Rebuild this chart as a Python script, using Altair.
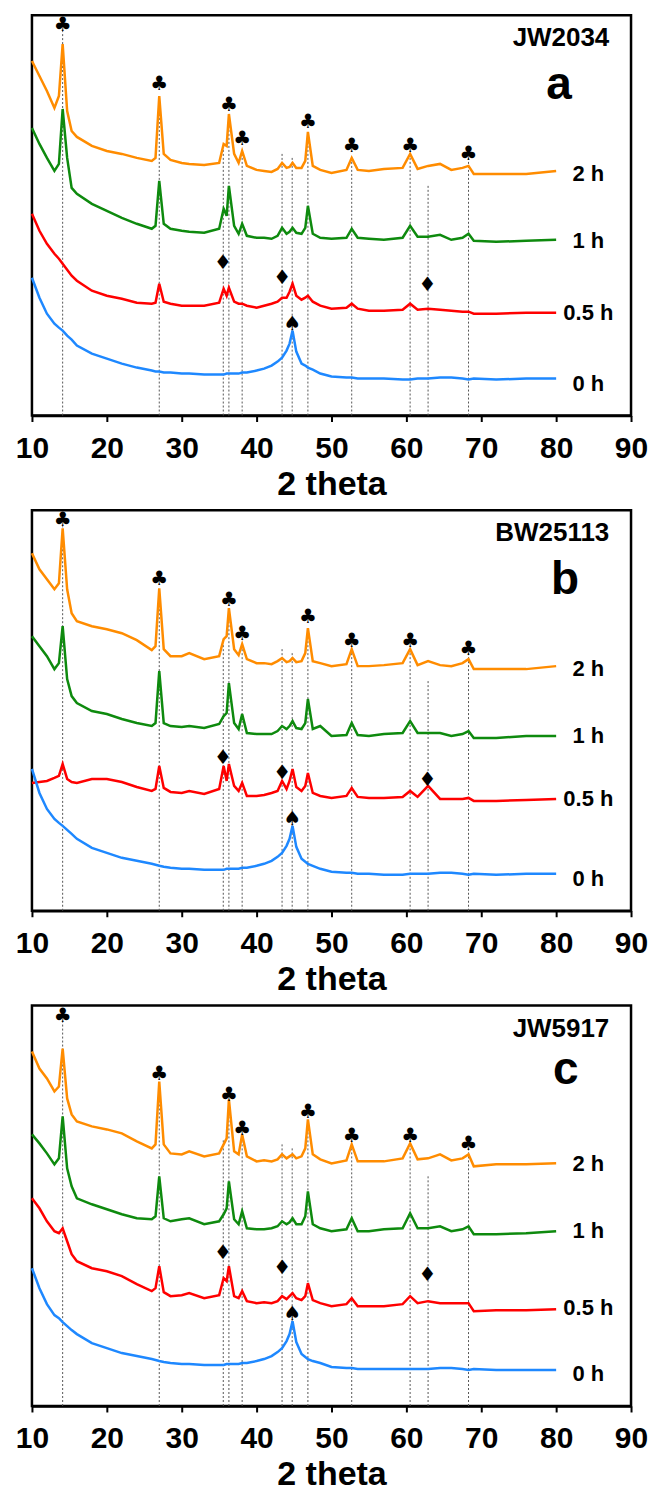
import altair as alt
import pandas as pd

# ---- data (x = 2 theta, y = intensity in arbitrary units) ----
X = [10, 11, 12, 13, 13.6, 14.1, 14.7, 15.3, 16, 18, 20, 22, 24, 26, 26.5, 27.0, 27.6, 28.5, 30, 31,
     33, 35, 35.6, 36.0, 36.3, 37.0, 37.6, 38.07, 38.7, 40, 41, 42, 42.8, 43.4, 44.0, 44.4, 44.8, 45.3,
     46.0, 46.5, 46.85, 47.5, 48.5, 50, 52.0, 52.7, 53.5, 55, 57, 59.5, 60.5, 61.5, 62.9, 64.5, 66, 67.5,
     68.3, 69, 72, 76, 80]

# panel a : JW2034
A_2H = [355, 340, 325, 308, 320, 372, 305, 285, 279, 270, 265, 262, 258, 255, 258, 320, 262, 256, 253, 252,
        251, 253, 272, 270, 302, 262, 253, 265, 250, 246, 245, 244, 247, 253, 248, 249, 253, 248,
        248, 255, 284, 250, 246, 243, 246, 258, 246, 245, 247, 248, 262, 247, 250, 252, 246, 248,
        250, 242, 242, 242, 245]
A_1H = [288, 272, 258, 245, 252, 307, 258, 228, 222, 212, 205, 198, 192, 187, 190, 235, 192, 187, 185, 184,
        183, 187, 207, 200, 230, 190, 182, 192, 180, 178, 178, 177, 180, 188, 182, 184, 188, 183,
        182, 188, 210, 182, 178, 177, 178, 187, 178, 177, 176, 178, 190, 179, 179, 181, 176, 178,
        182, 175, 174, 175, 176]
A_05H = [202, 185, 172, 162, 157, 152, 146, 140, 135, 125, 120, 117, 113, 112, 113, 132, 114, 112, 110, 110,
         110, 113, 127, 120, 128, 114, 112, 112, 110, 108, 110, 112, 114, 118, 118, 124, 132, 120,
         116, 118, 120, 114, 110, 107, 108, 112, 107, 105, 105, 106, 112, 106, 107, 106, 105, 104,
         104, 102, 102, 103, 103]
A_0H = [138, 118, 102, 92, 88, 85, 80, 76, 70, 62, 57, 52, 48, 45, 44, 44, 43, 43, 42, 42,
        41, 41, 41, 42, 42, 42, 42, 43, 43, 45, 47, 50, 54, 58, 65, 72, 85, 64,
        52, 50, 48, 46, 42, 39, 38, 38, 37, 37, 37, 36, 36, 37, 37, 38, 38, 37,
        36, 37, 36, 37, 37]

# panel b : BW25113
B_2H = [358, 342, 332, 322, 328, 383, 322, 298, 290, 285, 282, 278, 271, 261, 265, 323, 262, 255, 255, 258,
        252, 255, 272, 275, 303, 262, 256, 267, 252, 248, 248, 247, 250, 253, 249, 250, 253, 249,
        250, 258, 283, 250, 248, 245, 247, 262, 245, 245, 246, 248, 262, 246, 250, 246, 245, 248,
        252, 242, 242, 242, 245]
B_1H = [275, 265, 255, 242, 248, 285, 232, 215, 208, 200, 197, 192, 188, 185, 188, 240, 188, 185, 184, 185,
        183, 187, 195, 198, 228, 188, 182, 197, 178, 177, 177, 177, 180, 185, 182, 185, 190, 183,
        182, 188, 212, 182, 185, 175, 176, 188, 176, 175, 177, 178, 190, 178, 178, 178, 175, 177,
        180, 173, 173, 175, 175]
B_05H = [128, 129, 130, 133, 135, 147, 132, 129, 128, 132, 132, 129, 124, 120, 122, 145, 123, 119, 118, 120,
         117, 122, 145, 130, 147, 125, 120, 128, 115, 115, 116, 118, 120, 130, 122, 130, 142, 124,
         120, 125, 138, 118, 115, 113, 115, 123, 114, 113, 113, 114, 120, 114, 125, 112, 112, 112,
         113, 110, 110, 111, 112]
B_0H = [142, 118, 102, 92, 88, 85, 81, 77, 72, 63, 58, 53, 50, 47, 46, 45, 44, 43, 42, 42,
        41, 41, 41, 42, 42, 42, 42, 43, 43, 45, 47, 50, 54, 58, 65, 72, 85, 64,
        52, 49, 47, 45, 42, 39, 38, 38, 37, 37, 36, 36, 37, 37, 37, 38, 38, 37,
        36, 37, 36, 37, 37]

# panel c : JW5917
C_2H = [355, 338, 328, 315, 320, 358, 308, 292, 285, 280, 277, 273, 265, 258, 262, 325, 262, 253, 252, 255,
        250, 253, 262, 268, 307, 255, 252, 272, 250, 245, 246, 245, 247, 252, 248, 250, 252, 248,
        250, 258, 287, 252, 247, 243, 246, 262, 245, 245, 245, 248, 263, 247, 248, 252, 246, 248,
        252, 240, 242, 242, 243]
C_1H = [272, 263, 253, 242, 248, 290, 238, 220, 208, 202, 197, 192, 188, 187, 190, 230, 188, 185, 187, 188,
        182, 185, 192, 198, 225, 187, 182, 195, 178, 177, 177, 178, 180, 185, 182, 184, 188, 182,
        182, 190, 215, 182, 178, 175, 177, 188, 175, 175, 177, 178, 193, 178, 178, 180, 175, 177,
        180, 172, 172, 173, 175]
C_05H = [208, 198, 185, 175, 173, 178, 165, 152, 145, 138, 135, 130, 122, 115, 118, 140, 114, 110, 111, 113,
         108, 111, 128, 125, 140, 110, 108, 115, 105, 103, 104, 103, 105, 110, 107, 110, 113, 108,
         106, 110, 123, 106, 103, 100, 102, 108, 100, 100, 100, 102, 110, 103, 105, 103, 103, 103,
         103, 95, 96, 96, 97]
C_0H = [138, 118, 102, 91, 88, 84, 80, 76, 72, 63, 58, 53, 50, 47, 46, 45, 44, 43, 42, 42,
        41, 41, 41, 42, 42, 42, 42, 43, 43, 45, 47, 50, 54, 58, 65, 72, 85, 64,
        52, 49, 47, 45, 43, 39, 38, 38, 37, 37, 37, 37, 37, 37, 37, 38, 38, 37,
        36, 37, 36, 36, 36]

SERIES = ["2 h", "1 h", "0.5 h", "0 h"]
COLORS = ["#FF8C00", "#0E8A0E", "#FF0000", "#1E88FF"]
PANEL_SERIES = [[A_2H, A_1H, A_05H, A_0H], [B_2H, B_1H, B_05H, B_0H], [C_2H, C_1H, C_05H, C_0H]]
STRAINS = ["JW2034", "BW25113", "JW5917"]
LETTERS = ["a", "b", "c"]
LETTER_X = [80.4, 81.2, 81.3]
LETTER_Y = [317, 317, 322]
SERIES_LABEL_Y = [[242, 175, 103, 32], [242, 175, 112, 32], [242, 175, 98, 32]]

# dashed reference lines: position and upper end
REF_X = [14.1, 27.0, 35.55, 36.3, 38.07, 43.4, 44.75, 46.85, 52.7, 60.5, 62.9, 68.3]
REF_TOP = [385, 320, 268, 302, 265, 262, 258, 284, 258, 262, 232, 258]

# phase markers
CLUB_X = [14.1, 27.0, 36.3, 38.07, 46.85, 52.7, 60.5, 68.3]
CLUB_Y = [391, 332, 311, 277, 294, 270, 270, 262]
DIAMOND_X = [35.5, 43.4, 62.8]
DIAMOND_Y = [153, 138, 131]
SPADE_X = [44.8]
SPADE_Y = [92]

TICKS = list(range(10, 91, 5))
FONT = "Liberation Sans"
W, H = 600, 401

xscale = alt.Scale(domain=[10, 90], nice=False, zero=False)
yscale = alt.Scale(domain=[0, H], nice=False, zero=False)

xaxis = alt.Axis(
    values=TICKS,
    labelExpr="datum.value % 10 === 0 ? datum.label : ''",
    tickSize={"condition": {"test": "datum.value % 10 === 0", "value": 6}, "value": 4},
    tickWidth=2, tickColor="black", domainColor="black", domainWidth=2.5,
    labelFont=FONT, labelFontSize=30, labelFontWeight="bold", labelColor="black",
    labelPadding=12, labelFlush=False, labelOverlap=False,
    title="2 theta", titleFont=FONT, titleFontSize=34, titleFontWeight="bold",
    titleColor="black", titlePadding=4, grid=False,
)


def panel(i):
    rows = []
    for name, ys in zip(SERIES, PANEL_SERIES[i]):
        for x, y in zip(X, ys):
            rows.append({"x": x, "y": y, "s": name})
    lines_df = pd.DataFrame(rows)
    ref_df = pd.DataFrame({"x": REF_X, "y": [0] * len(REF_X), "y2": REF_TOP})
    sym_df = pd.DataFrame({
        "x": CLUB_X + DIAMOND_X + SPADE_X,
        "y": CLUB_Y + DIAMOND_Y + SPADE_Y,
        "t": ["♣"] * len(CLUB_X) + ["♦"] * len(DIAMOND_X) + ["♠"] * len(SPADE_X),
    })
    lab_df = pd.DataFrame({"x": [84.3] * 4, "y": SERIES_LABEL_Y[i], "t": SERIES})
    strain_df = pd.DataFrame({"x": [87.1], "y": [370], "t": [STRAINS[i]]})
    letter_df = pd.DataFrame({"x": [LETTER_X[i]], "y": [LETTER_Y[i]], "t": [LETTERS[i]]})

    refs = alt.Chart(ref_df).mark_rule(color="#555555", strokeWidth=1, strokeDash=[2, 2]).encode(
        x=alt.X("x:Q", scale=xscale, axis=xaxis),
        y=alt.Y("y:Q", scale=yscale, axis=None),
        y2="y2:Q",
    )
    lines = alt.Chart(lines_df).mark_line(strokeWidth=2.5).encode(
        x=alt.X("x:Q", scale=xscale),
        y=alt.Y("y:Q", scale=yscale),
        color=alt.Color("s:N", scale=alt.Scale(domain=SERIES, range=COLORS), legend=None),
    )
    syms = alt.Chart(sym_df).mark_text(font="DejaVu Sans", fontSize=20, baseline="middle",
                                       align="center", color="black").encode(
        x="x:Q", y="y:Q", text="t:N")
    labs = alt.Chart(lab_df).mark_text(font=FONT, fontSize=22, fontWeight="bold", baseline="middle",
                                       align="center", color="black").encode(
        x="x:Q", y="y:Q", text="t:N")
    strain = alt.Chart(strain_df).mark_text(font=FONT, fontSize=26, fontWeight="bold",
                                            baseline="alphabetic", align="right", color="black").encode(
        x="x:Q", y="y:Q", text="t:N")
    letter = alt.Chart(letter_df).mark_text(font=FONT, fontSize=46, fontWeight="bold",
                                            baseline="alphabetic", align="center", color="black").encode(
        x="x:Q", y="y:Q", text="t:N")
    return alt.layer(refs, lines, syms, labs, strain, letter).properties(width=W, height=H)


chart = alt.vconcat(panel(0), panel(1), panel(2), spacing=5).properties(
    padding={"left": 14, "top": 12, "right": 0, "bottom": 0},
    background="white",
).configure_view(stroke="black", strokeWidth=2.5)

chart.save("out.html", embed_options={"renderer": "svg", "actions": False})
